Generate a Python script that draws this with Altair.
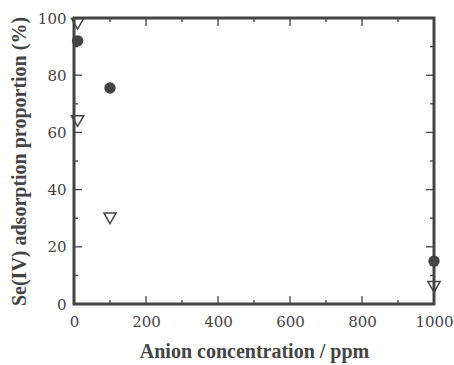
import altair as alt
import pandas as pd

circle_x = [10, 100, 1000]
circle_y = [92, 75.5, 15]
tri_x = [10, 10, 100, 1000]
tri_y = [98, 64, 30, 6]

x_major = [200, 400, 600, 800]
x_minor = [100, 300, 500, 700, 900]
y_major = [20, 40, 60, 80]
y_minor = [10, 30, 50, 70, 90]

W, H = 360, 286
INK = "#444444"
FONT = "Liberation Serif"
LFONT = "DejaVu Serif"

xs = alt.Scale(domain=[0, 1000], nice=False, zero=False)
ys = alt.Scale(domain=[0, 100], nice=False, zero=False)

circ = pd.DataFrame({"x": circle_x, "y": circle_y})
tri = pd.DataFrame({"x": tri_x, "y": tri_y})

xaxis = alt.Axis(values=list(range(0, 1001, 200)), format="d", ticks=False, domain=False, grid=False,
                 labelFlush=False, labelPadding=10, labelFont=LFONT, labelFontSize=15, labelColor=INK,
                 title="Anion concentration / ppm", titlePadding=12)
yaxis = alt.Axis(values=list(range(0, 101, 20)), format="d", ticks=False, domain=False, grid=False,
                 labelFlush=False, labelPadding=8, labelFont=LFONT, labelFontSize=15, labelColor=INK,
                 title="Se(IV) adsorption proportion (%)", titlePadding=8)

pts_c = alt.Chart(circ).mark_point(shape="circle", filled=True, size=130, color=INK, opacity=1).encode(
    x=alt.X("x:Q", scale=xs, axis=xaxis), y=alt.Y("y:Q", scale=ys, axis=yaxis))
pts_t = alt.Chart(tri).mark_point(shape="triangle-down", filled=False, size=150, color=INK,
                                  strokeWidth=1.5, opacity=1).encode(
    x=alt.X("x:Q", scale=xs), y=alt.Y("y:Q", scale=ys))


def yticks(vals, length):
    df = pd.DataFrame({"v": vals})
    left = alt.Chart(df).mark_rule(color=INK, strokeWidth=1.3).encode(
        y=alt.Y("v:Q", scale=ys), x=alt.value(0), x2=alt.value(length))
    right = alt.Chart(df).mark_rule(color=INK, strokeWidth=1.3).encode(
        y=alt.Y("v:Q", scale=ys), x=alt.value(W), x2=alt.value(W - length))
    return [left, right]


def xticks(vals, length):
    df = pd.DataFrame({"v": vals})
    bot = alt.Chart(df).mark_rule(color=INK, strokeWidth=1.3).encode(
        x=alt.X("v:Q", scale=xs), y=alt.value(H), y2=alt.value(H - length))
    top = alt.Chart(df).mark_rule(color=INK, strokeWidth=1.3).encode(
        x=alt.X("v:Q", scale=xs), y=alt.value(0), y2=alt.value(length))
    return [bot, top]


layers = [pts_c, pts_t] + yticks(y_major, 8) + yticks(y_minor, 4) + xticks(x_major, 8) + xticks(x_minor, 4)

chart = alt.layer(*layers).properties(
    width=W, height=H,
    autosize=alt.AutoSizeParams(type="none"),
    padding={"left": 74, "top": 18, "right": 20, "bottom": 61},
    background="white",
).configure_view(stroke=INK, strokeWidth=3).configure_axis(
    titleFont=FONT, titleFontSize=20, titleFontWeight="bold", titleColor=INK,
)

chart.save("out.html", embed_options={"renderer": "svg", "actions": False})
